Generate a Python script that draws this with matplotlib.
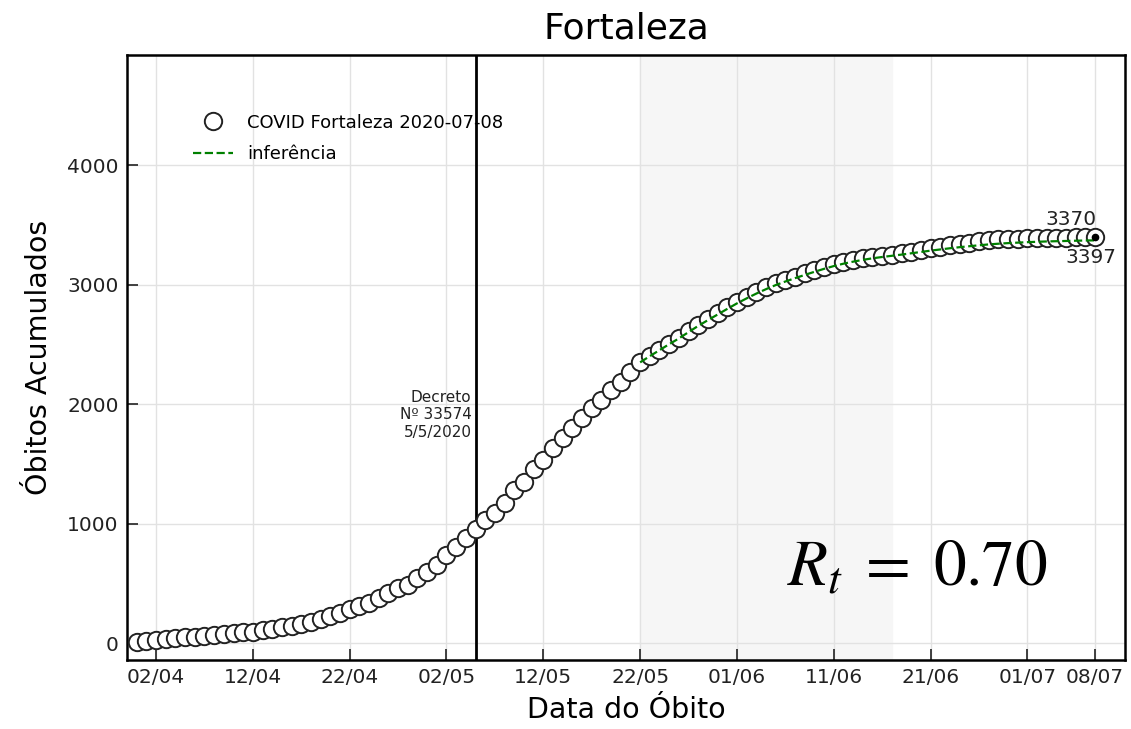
import matplotlib
matplotlib.use("Agg")
import matplotlib.pyplot as plt
import matplotlib.dates as mdates
import pandas as pd

# cumulative deaths by date of death, 31/03 .. 08/07
obitos = (
    [15]
    + [22, 29, 36, 43, 50, 57, 64, 71, 78, 85, 92, 99, 110, 122, 135, 150, 165, 182,
       203, 226, 252, 286, 313, 341, 378, 420, 461, 489, 545, 600]
    + [656, 740, 810, 880, 960, 1030, 1094, 1177, 1283, 1353, 1456, 1534, 1632, 1716,
       1799, 1883, 1966, 2036, 2120, 2189, 2273, 2350, 2400, 2454, 2505, 2552, 2610,
       2663, 2712, 2761, 2810]
    + [2858, 2900, 2941, 2978, 3012, 3040, 3067, 3095, 3123, 3150, 3175, 3193, 3207,
       3222, 3232, 3240, 3248, 3262, 3276, 3290, 3304, 3316, 3328, 3340, 3350, 3362,
       3372, 3378, 3382, 3385]
    + [3388, 3390, 3391, 3392, 3393, 3394, 3395, 3397]
)
datas = pd.date_range("2020-03-31", "2020-07-08")

# model inference, 22/05 .. 08/07
inferencia = [2350, 2402, 2452, 2502, 2550, 2603, 2655, 2703, 2750, 2797,
              2843, 2885, 2925, 2962, 2996, 3026, 3054, 3081, 3107, 3132,
              3155, 3175, 3192, 3207, 3220, 3231, 3241, 3251, 3262, 3273,
              3284, 3294, 3304, 3313, 3321, 3329, 3336, 3342, 3347, 3351,
              3355, 3358, 3361, 3363, 3365, 3367, 3369, 3370]
datas_inf = pd.date_range("2020-05-22", "2020-07-08")

ticks = pd.to_datetime(["2020-04-02", "2020-04-12", "2020-04-22", "2020-05-02",
                        "2020-05-12", "2020-05-22", "2020-06-01", "2020-06-11",
                        "2020-06-21", "2020-07-01", "2020-07-08"])
decreto = pd.Timestamp("2020-05-05")
janela = (pd.Timestamp("2020-05-22"), pd.Timestamp("2020-06-17"))
rt = 0.70

plt.rcParams["mathtext.fontset"] = "stix"

fig = plt.figure(figsize=(11.31, 7.29), dpi=100)
ax = fig.add_axes([0.1123, 0.0947, 0.8824, 0.8299])

ax.axvspan(janela[0], janela[1], color="#f6f6f6", zorder=0)
ax.grid(True, color="#e2e2e2", lw=1.0, zorder=1)
ax.axvline(decreto, color="black", lw=2.0, zorder=2)

ax.plot(datas, obitos, "o", ms=12.5, mfc="white", mec="#222222", mew=1.4,
        label="COVID Fortaleza 2020-07-08", zorder=3)
ax.plot(datas_inf, inferencia, "--", color="green", lw=1.6, label="inferência", zorder=4)
ax.plot(datas[-1], obitos[-1], "o", ms=4.5, color="black", zorder=5)

ax.annotate(f"{inferencia[-1]}", (datas[-1], obitos[-1]), xytext=(1, 6),
            textcoords="offset points", ha="right", va="bottom", fontsize=14.5,
            color="#222222")
ax.annotate(f"{obitos[-1]}", (datas[-1], obitos[-1]), xytext=(-3, -8),
            textcoords="offset points", ha="center", va="top", fontsize=14.5,
            color="#222222")

ax.text(decreto - pd.Timedelta(hours=10), 1910, "Decreto\nNº 33574\n5/5/2020",
        ha="right", va="center", multialignment="right", fontsize=11, color="#222222")

ax.text(0.792, 0.152, rf"$R_t\;=\;{rt:.2f}$", transform=ax.transAxes, ha="center",
        va="center", fontsize=47)

ax.set_xlim(pd.Timestamp("2020-03-30"), pd.Timestamp("2020-07-11 02:00"))
ax.set_ylim(-138, 4920)
ax.set_xticks(ticks)
ax.xaxis.set_major_formatter(mdates.DateFormatter("%d/%m"))
ax.set_yticks([0, 1000, 2000, 3000, 4000])
ax.tick_params(direction="in", length=8, width=1.2, labelsize=14.5, pad=6,
               colors="#222222")
for s in ax.spines.values():
    s.set_linewidth(1.8)

ax.set_title("Fortaleza", fontsize=26, pad=12)
ax.set_xlabel("Data do Óbito", fontsize=20.5, labelpad=6)
ax.set_ylabel("Óbitos Acumulados", fontsize=20.5, labelpad=10)

ax.legend(loc="upper left", bbox_to_anchor=(0.05, 0.93), frameon=False,
          fontsize=13, handlelength=2.2, labelspacing=0.75)

fig.savefig("out.png", dpi=100)
